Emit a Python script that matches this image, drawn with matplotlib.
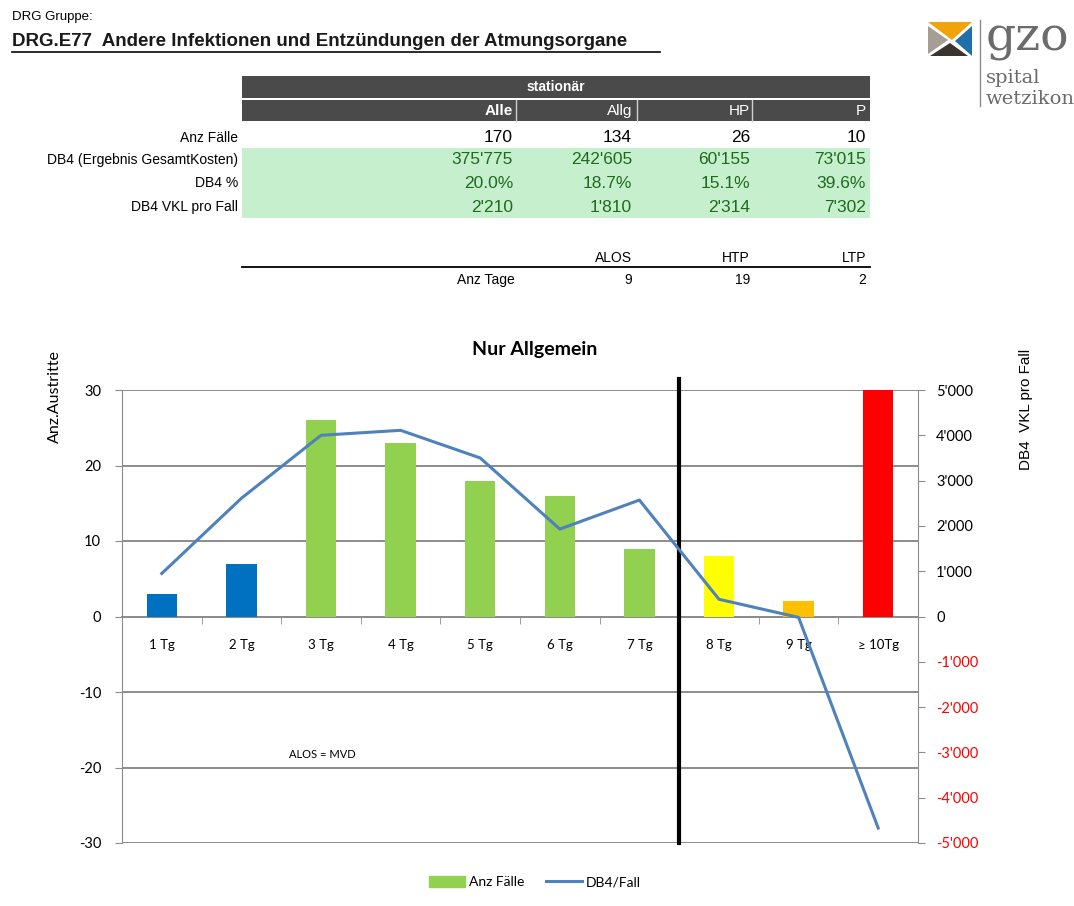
import matplotlib
matplotlib.use('Agg')
import matplotlib.pyplot as plt
from matplotlib.patches import Rectangle, Polygon, Patch
from matplotlib.lines import Line2D

plt.rcParams['axes.unicode_minus'] = False

# data
categories = ['1 Tg', '2 Tg', '3 Tg', '4 Tg', '5 Tg', '6 Tg', '7 Tg', '8 Tg', '9 Tg', '\u2265 10Tg']
anz_faelle = [3, 7, 26, 23, 18, 16, 9, 8, 2, 30]
db4_fall = [950, 2610, 4000, 4110, 3500, 1930, 2570, 380, -20, -4670]
bar_colors = ['#0070c0', '#0070c0', '#92d050', '#92d050', '#92d050', '#92d050', '#92d050',
              '#ffff00', '#ffc000', '#ff0000']

table_cols = ['Alle', 'Allg', 'HP', 'P']
table_rows = ['Anz F\u00e4lle', 'DB4 (Ergebnis GesamtKosten)', 'DB4 %', 'DB4 VKL pro Fall']
table_vals = [['170', '134', '26', '10'],
              ["375'775", "242'605", "60'155", "73'015"],
              ['20.0%', '18.7%', '15.1%', '39.6%'],
              ["2'210", "1'810", "2'314", "7'302"]]
tage_cols = ['ALOS', 'HTP', 'LTP']
tage_vals = ['9', '19', '2']

W, H = 1074, 906
fig = plt.figure(figsize=(W / 100, H / 100), dpi=100)
NARROW = ['Liberation Sans Narrow', 'Liberation Sans', 'DejaVu Sans']
CHART = ['Lato', 'DejaVu Sans']


def P(x, y):
    return x / W, 1 - y / H


def txt(x, y, s, **kw):
    kw.setdefault('family', NARROW)
    kw.setdefault('va', 'center')
    fig.text(*P(x, y), s, **kw)


# header
txt(12, 17, 'DRG Gruppe:', fontsize=9.5)
txt(12, 41, 'DRG.E77  Andere Infektionen und Entz\u00fcndungen der Atmungsorgane',
    fontsize=13.5, weight='bold', color='#1a1a1a')
fig.add_artist(Line2D([12 / W, 660 / W], [1 - 52 / H] * 2, color='#1a1a1a', lw=1.3))

# table
def rect(x0, y0, x1, y1, color):
    fig.add_artist(Rectangle(P(x0, y1), (x1 - x0) / W, (y1 - y0) / H, color=color, lw=0))

rect(242, 76, 870, 98, '#4a4a4a')
rect(242, 100, 870, 121, '#4a4a4a')
for xs in [516, 637, 752]:
    fig.add_artist(Line2D([xs / W] * 2, [1 - 100 / H, 1 - 121 / H], color='#d0d0d0', lw=1))
txt(556, 87, 'station\u00e4r', ha='center', color='white', weight='bold', fontsize=10)
col_right = [513, 632, 750, 866]
for i, c in enumerate(table_cols):
    txt(col_right[i], 111, c, ha='right', color='white', fontsize=11,
        weight='bold' if i == 0 else 'normal')
rect(242, 148, 870, 218, '#c6efce')
row_y = [138, 160, 183, 207]
for r, lab in enumerate(table_rows):
    txt(238, row_y[r], lab, ha='right', fontsize=10)
    for i in range(4):
        txt(col_right[i], row_y[r], table_vals[r][i], ha='right', fontsize=12.5,
            color='black' if r == 0 else '#1e6b1e')
for i, c in enumerate(tage_cols):
    txt(col_right[i + 1], 258, c, ha='right', fontsize=10)
    txt(col_right[i + 1], 280, tage_vals[i], ha='right', fontsize=10)
fig.add_artist(Line2D([242 / W, 870 / W], [1 - 267 / H] * 2, color='black', lw=1.3))
txt(515, 280, 'Anz Tage', ha='right', fontsize=10)

# logo
tris = [([(928, 22), (972, 22), (952, 40)], '#f0a30a'),
        ([(928, 26), (928, 54), (948, 40)], '#a69d94'),
        ([(972, 26), (972, 56), (955, 41)], '#1f6fa8'),
        ([(930, 56), (968, 56), (950, 43)], '#3b332d')]
for pts, col in tris:
    fig.add_artist(Polygon([P(*p) for p in pts], closed=True, color=col, lw=0))
fig.add_artist(Line2D([980 / W] * 2, [1 - 20 / H, 1 - 106 / H], color='#8a8a8a', lw=1))
txt(986, 38, 'gzo', fontsize=34, color='#6b6b6b', family=['DejaVu Serif'], weight='light')
txt(986, 78, 'spital', fontsize=14, color='#6b6b6b', family=['DejaVu Serif'])
txt(986, 99, 'wetzikon', fontsize=14, color='#6b6b6b', family=['DejaVu Serif'])

# chart
ax = fig.add_axes([122 / W, 1 - 843 / H, (918 - 122) / W, (843 - 390) / H])
x = list(range(len(categories)))
ax.bar(x, anz_faelle, width=0.38, color=bar_colors, zorder=3, clip_on=False)
ax.set_xlim(-0.5, len(categories) - 0.5)
ax.set_ylim(-30, 30)
ax.set_yticks([-30, -20, -10, 0, 10, 20, 30])
ax.grid(axis='y', color='#8c8c8c', lw=1.4, zorder=0)
ax.spines['top'].set_visible(False)
ax.spines['right'].set_visible(False)
ax.spines['left'].set_color('#8c8c8c')
ax.spines['bottom'].set_position(('data', 0))
ax.spines['bottom'].set_color('#8c8c8c')
ax.spines['bottom'].set_linewidth(1.4)
ax.set_xticks(x)
ax.set_xticklabels(categories, family=CHART, fontsize=9.5)
ax.tick_params(axis='x', length=0, pad=16)
ax.set_xticks([i + 0.5 for i in range(-1, len(categories))], minor=True)
ax.tick_params(axis='x', which='minor', length=5, color='#8c8c8c', direction='out')
ax.tick_params(axis='y', length=5, color='#8c8c8c', labelsize=10.5, pad=10)
for t in ax.get_yticklabels():
    t.set_family(CHART)
ax.plot([6.5, 6.5], [-30, 31.4], color='black', lw=3, clip_on=False, zorder=4)
ax.text(1.6, -18.7, 'ALOS = MVD', fontsize=8, family=CHART)

ax2 = ax.twinx()
ax2.set_ylim(-5000, 5000)
ticks2 = list(range(-5000, 5001, 1000))
ax2.set_yticks(ticks2)
ax2.set_yticklabels([f'{v:,}'.replace(',', "'") for v in ticks2], family=CHART, fontsize=10.5)
for t, v in zip(ax2.get_yticklabels(), ticks2):
    t.set_color('#ff0000' if v < 0 else 'black')
ax2.tick_params(axis='y', length=5, color='#8c8c8c', pad=8)
for s in ['top', 'bottom', 'left']:
    ax2.spines[s].set_visible(False)
ax2.spines['right'].set_color('#8c8c8c')
ax2.plot(x, db4_fall, color='#4f81bd', lw=2.2, zorder=5)

txt(535, 350, 'Nur Allgemein', ha='center', fontsize=14, weight='bold', family=CHART)
txt(55, 397, 'Anz.Austritte', ha='center', rotation=90, fontsize=11.5, family=CHART)
txt(1026, 409, 'DB4  VKL pro Fall', ha='center', rotation=90, fontsize=11,
    family=['Liberation Sans', 'DejaVu Sans'])

handles = [Patch(color='#92d050', label='Anz F\u00e4lle'),
           Line2D([], [], color='#4f81bd', lw=2.2, label='DB4/Fall')]
fig.legend(handles=handles, loc='center', bbox_to_anchor=(535 / W, 1 - 882 / H), ncol=2,
           frameon=False, prop={'family': CHART, 'size': 10}, handlelength=2.6,
           handleheight=0.9, columnspacing=1.5, handletextpad=0.3)

fig.savefig('out.png', dpi=100)
